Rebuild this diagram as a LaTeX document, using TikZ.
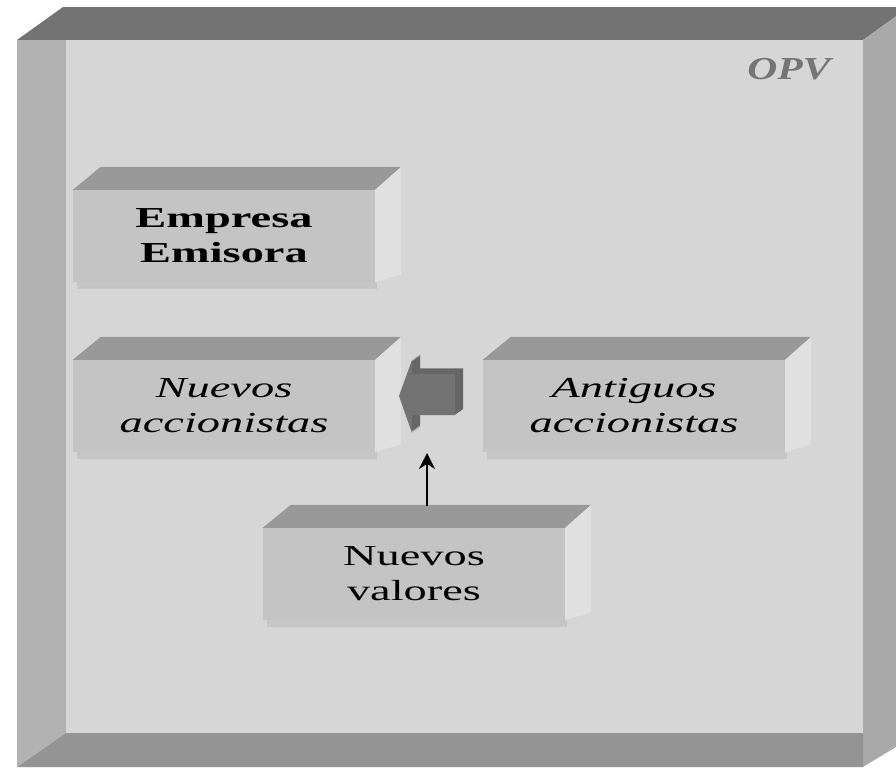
\documentclass[tikz,border=0pt]{standalone}
\usepackage{fontspec}
\setmainfont{Liberation Serif}
\newfontfamily\ancho[FakeStretch=1.6]{Liberation Serif}
\newfontfamily\anchoopv[FakeStretch=1.3]{Liberation Serif}
\usepackage{xcolor}
\usepackage{tikz}
\usetikzlibrary{calc,arrows.meta}

\definecolor{marcoTapa}{HTML}{737373}
\definecolor{marcoLado}{HTML}{A9A9A9}
\definecolor{marcoIzq}{HTML}{B2B2B2}
\definecolor{marcoBase}{HTML}{949494}
\definecolor{marcoFondo}{HTML}{D6D6D6}
\definecolor{cajaFrente}{HTML}{C4C4C4}
\definecolor{cajaTapa}{HTML}{999999}
\definecolor{cajaLado}{HTML}{E0E0E0}
\definecolor{flechaFrente}{HTML}{737373}
\definecolor{flechaLado}{HTML}{666666}
\definecolor{opvGris}{HTML}{757575}

\tikzset{
  cara/.style={fill=cajaFrente, inner sep=0pt, align=center,
    minimum width=302, minimum height=92,
    font=\ancho\fontsize{29}{35}\selectfont},
  conector/.style={-{Stealth[length=16pt,width=16pt]}, line width=1.8pt, black},
}

% tapa y lado de una caja
\newcommand{\caja}[1]{%
  \fill[black, opacity=0.07] ($(#1.south west)+(4,0)$) rectangle ($(#1.south east)+(2,7)$);
  \fill[cajaTapa] (#1.north west) -- ++(28,-23) -- ($(#1.north east)+(26,-23)$) -- (#1.north east) -- cycle;
  \fill[cajaLado] (#1.north east) -- ++(26,-23) -- ($(#1.south east)+(26,-8)$) -- (#1.south east) -- cycle;
}

\begin{document}
\begin{tikzpicture}[x=1pt, y=-1pt]
    \useasboundingbox[fill=white] (0,0) rectangle (896,772);
    \clip (0,0) rectangle (896,772);

    % marco exterior
    \fill[marcoTapa] (17,40) -- (63,7) -- (909,7) -- (863,40) -- cycle;
    \fill[marcoLado] (863,40) -- (909,7) -- (909,739) -- (863,767) -- cycle;
    \fill[marcoIzq] (17,40) -- (66,40) -- (66,733) -- (17,767) -- cycle;
    \fill[marcoBase] (17,767) -- (66,733) -- (863,733) -- (863,767) -- cycle;
    \fill[marcoFondo] (66,40) rectangle (863,733);

    \node[font=\anchoopv\bfseries\itshape\fontsize{32}{38}\selectfont, text=opvGris] (opv) at (789,69) {OPV};

    \node[cara] (emisora) at (224,236) {\bfseries Empresa\\\bfseries Emisora};
    \node[cara] (nuevos) at (224,406) {\itshape Nuevos\\\itshape accionistas};
    \node[cara] (antiguos) at (634,406) {\itshape Antiguos\\\itshape accionistas};
    \node[cara] (valores) at (414,574) {Nuevos\\valores};

    \caja{emisora}
    \caja{nuevos}
    \caja{antiguos}
    \caja{valores}

    % flecha gruesa
    \coordinate (flecha) at (399,396);
    \begin{scope}[shift={(flecha)}]
        \foreach \k in {8,...,1}
            \fill[flechaLado, shift={(\k,-0.7*\k)}] (0,0) -- (13,-36) -- (13,-22) -- (56,-22) -- (56,19) -- (13,19) -- (13,37) -- cycle;
        \fill[flechaFrente] (0,0) -- (13,-36) -- (13,-22) -- (56,-22) -- (56,19) -- (13,19) -- (13,37) -- cycle;
    \end{scope}

    \coordinate (punta) at (427,453);
    \coordinate (origen) at ($(valores.north)+(13,-22)$);
    \draw[conector] (origen) -- (punta);
\end{tikzpicture}
\end{document}
